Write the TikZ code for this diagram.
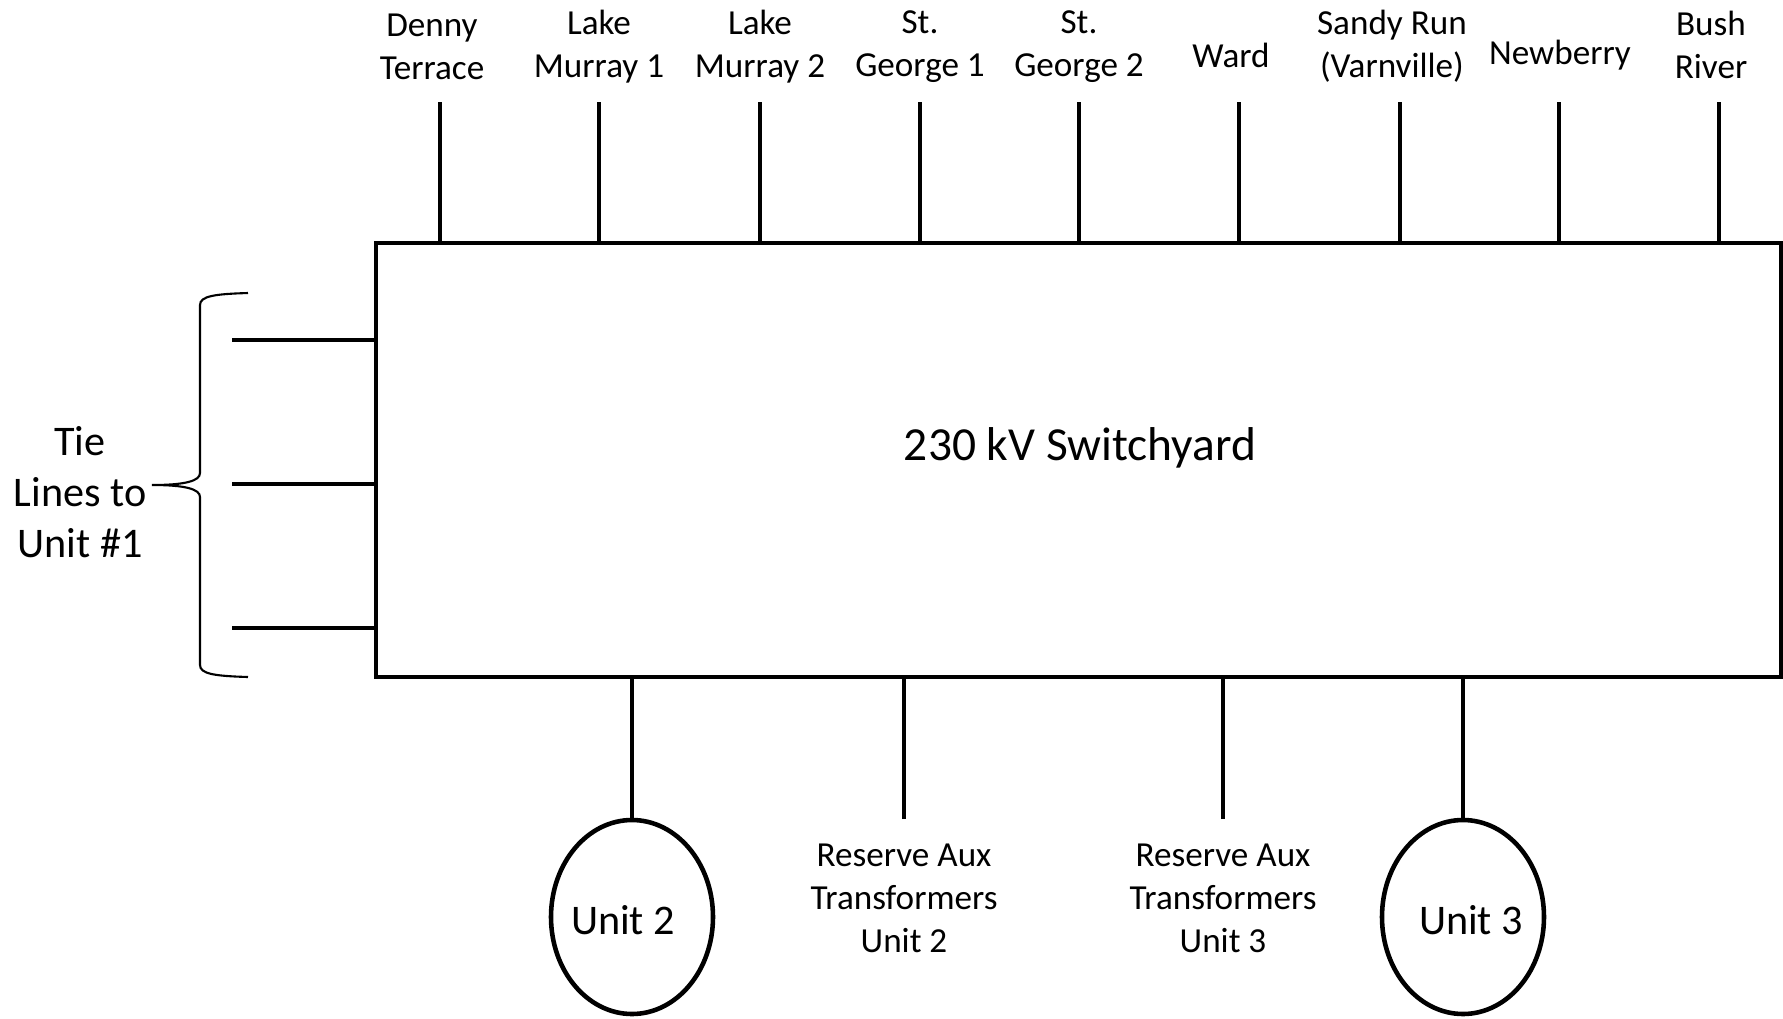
\documentclass[tikz,border=0pt]{standalone}
\usepackage{fontspec}
\setmainfont{Carlito}
\usepackage{tikz}
\usetikzlibrary{shapes.geometric,calc}

\begin{document}
\begin{tikzpicture}[x=1cm,y=1cm,
  wire/.style={line width=1.4pt},
  feed/.style={font=\fontsize{10}{12.2}\selectfont,align=center,inner sep=0pt},
  unit/.style={draw,ellipse,line width=1.3pt,minimum width=1.62cm,minimum height=1.94cm,inner sep=0pt},
  unitlab/.style={font=\fontsize{12}{14.6}\selectfont,inner sep=0pt}]
\useasboundingbox (0,0) rectangle (17.83,-10.18);
% switchyard box
\node[draw,line width=1.4pt,minimum width=14.05cm,minimum height=4.34cm,inner sep=0pt] (sy) at (10.785,-4.60) {};
\node[font=\fontsize{13.5}{16}\selectfont] (title) at (10.80,-4.48) {230 kV Switchyard};
% lines out to the feeders
\foreach \xl/\xt/\yt/\txt [count=\k] in {
  4.40/4.32/-0.465/{Denny\\Terrace},
  5.99/5.99/-0.465/{Lake\\Murray 1},
  7.60/7.60/-0.465/{Lake\\Murray 2},
  9.20/9.20/-0.465/{St.\\George 1},
  10.79/10.79/-0.465/{St.\\George 2},
  12.39/12.31/-0.55/{Ward},
  14.00/13.92/-0.465/{Sandy Run\\(Varnville)},
  15.59/15.60/-0.55/{Newberry},
  17.19/17.11/-0.445/{Bush\\River}} {
  \node[feed] (lbl\k) at (\xt,\yt) {\txt};
  \coordinate (f\k) at (\xl,-1.02);
  \draw[wire] (f\k) -- (f\k |- sy.north);
}
% tie lines to unit 1
\foreach \y [count=\k] in {-3.40,-4.84,-6.28} {
  \coordinate (t\k) at (2.32,\y);
  \draw[wire] (t\k) -- (t\k -| sy.west);
}
\draw[line width=0.6pt] (2.48,-2.93) .. controls (2.15,-2.94) and (2.00,-2.96) .. (2.00,-3.05)
  -- (2.00,-4.73) .. controls (2.00,-4.81) and (1.85,-4.85) .. (1.52,-4.85)
  .. controls (1.85,-4.85) and (2.00,-4.89) .. (2.00,-4.97)
  -- (2.00,-6.65) .. controls (2.00,-6.74) and (2.15,-6.76) .. (2.48,-6.77);
\node[font=\fontsize{12}{14.6}\selectfont,align=center] (tie) at (0.80,-4.92) {Tie\\Lines to\\Unit \#1};
% generating units and reserve aux transformers
\node[unit] (u2) at (6.32,-9.17) {};
\node[unit] (u3) at (14.63,-9.17) {};
\node[unitlab] (u2lab) at ($(u2.center)+(-0.09,-0.03)$) {Unit 2};
\node[unitlab] (u3lab) at ($(u3.center)+(0.08,-0.03)$) {Unit 3};
\draw[wire] (u2.north) -- (u2.north |- sy.south);
\draw[wire] (u3.north) -- (u3.north |- sy.south);
\coordinate (r2) at (9.04,-8.19);
\coordinate (r3) at (12.23,-8.19);
\draw[wire] (r2) -- (r2 |- sy.south);
\draw[wire] (r3) -- (r3 |- sy.south);
\node[feed] (rat2) at (9.04,-8.98) {Reserve Aux\\Transformers\\Unit 2};
\node[feed] (rat3) at (12.23,-8.98) {Reserve Aux\\Transformers\\Unit 3};
\end{tikzpicture}
\end{document}
